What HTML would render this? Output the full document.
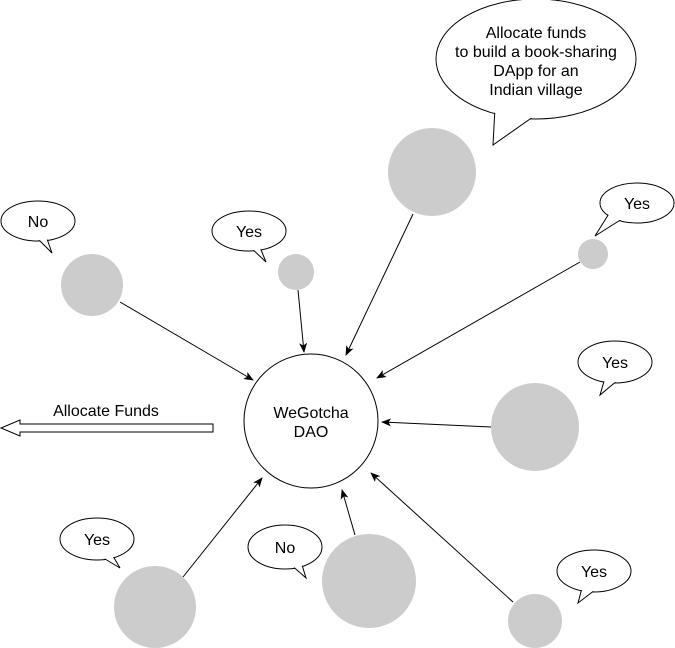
<!DOCTYPE html>
<html><head><meta charset="utf-8"><style>
html,body{margin:0;padding:0;background:#fff;}
svg{display:block;}
text{font-family:"Liberation Sans",Arial,sans-serif;font-size:16px;fill:#000;}
</style></head><body>
<svg width="675" height="648" viewBox="0 0 675 648" xmlns="http://www.w3.org/2000/svg">
<defs>
<marker id="ah" markerWidth="10" markerHeight="8" refX="9" refY="4" orient="auto" markerUnits="userSpaceOnUse">
<path d="M0,0 L10,4 L0,8 L2.5,4 Z" fill="#000"/>
</marker>
</defs>
<g fill="#cccccc">
<circle cx="92" cy="285" r="31"/>
<circle cx="296" cy="272" r="18"/>
<circle cx="432" cy="172" r="44"/>
<circle cx="593" cy="254" r="15"/>
<circle cx="535" cy="427" r="44"/>
<circle cx="369" cy="581" r="47"/>
<circle cx="155" cy="607" r="41"/>
<circle cx="535" cy="621" r="27"/>
</g>
<circle cx="311" cy="421" r="67" fill="#fff" stroke="#000" stroke-width="1"/>
<text x="311" y="418" text-anchor="middle">WeGotcha</text>
<text x="311" y="437" text-anchor="middle">DAO</text>
<g stroke="#000" stroke-width="1" fill="none" marker-end="url(#ah)">
<line x1="120" y1="302" x2="253" y2="380"/>
<line x1="298" y1="290" x2="304" y2="352"/>
<line x1="413" y1="214" x2="346" y2="355"/>
<line x1="580" y1="262" x2="377" y2="378"/>
<line x1="491" y1="427" x2="382" y2="422"/>
<line x1="355" y1="535" x2="342" y2="490"/>
<line x1="183" y1="577" x2="262" y2="478"/>
<line x1="513" y1="602" x2="371" y2="473"/>
</g>
<path d="M213,424 L20,424 L20,420 L1,428 L20,436 L20,432 L213,432 Z" fill="#fff" stroke="#000" stroke-width="1"/>
<text x="106" y="416" text-anchor="middle">Allocate Funds</text>

<g stroke="#000" stroke-width="1">
<ellipse cx="38" cy="221" rx="37" ry="20" fill="#fff"/>
<polyline points="34,235 52,253 46,236" fill="#fff"/>
<ellipse cx="38" cy="221" rx="36.3" ry="19.3" fill="#fff" stroke="none"/>

<ellipse cx="249" cy="231" rx="37" ry="20" fill="#fff"/>
<polyline points="248,245 266,262 259,245" fill="#fff"/>
<ellipse cx="249" cy="231" rx="36.3" ry="19.3" fill="#fff" stroke="none"/>

<ellipse cx="536" cy="59" rx="100" ry="60" fill="#fff"/>
<polyline points="495,108 493,145 540,112" fill="#fff"/>
<ellipse cx="536" cy="59" rx="99.3" ry="59.3" fill="#fff" stroke="none"/>

<ellipse cx="637" cy="203" rx="37" ry="20" fill="#fff"/>
<polyline points="610,212 595,236 622,219" fill="#fff"/>
<ellipse cx="637" cy="203" rx="36.3" ry="19.3" fill="#fff" stroke="none"/>

<ellipse cx="615" cy="362" rx="37" ry="21" fill="#fff"/>
<polyline points="605,378 600,395 618,380" fill="#fff"/>
<ellipse cx="615" cy="362" rx="36.3" ry="20.3" fill="#fff" stroke="none"/>

<ellipse cx="97" cy="539" rx="37" ry="21" fill="#fff"/>
<polyline points="100,556 120,568 113,556" fill="#fff"/>
<ellipse cx="97" cy="539" rx="36.3" ry="20.3" fill="#fff" stroke="none"/>

<ellipse cx="285" cy="547" rx="37" ry="22" fill="#fff"/>
<polyline points="289,563 306,578 302,565" fill="#fff"/>
<ellipse cx="285" cy="547" rx="36.3" ry="21.3" fill="#fff" stroke="none"/>

<ellipse cx="594" cy="571" rx="37" ry="21" fill="#fff"/>
<polyline points="582,588 578,603 595,590" fill="#fff"/>
<ellipse cx="594" cy="571" rx="36.3" ry="20.3" fill="#fff" stroke="none"/>
</g>
<text x="38" y="227" text-anchor="middle">No</text>
<text x="249" y="237" text-anchor="middle">Yes</text>
<text x="637" y="209" text-anchor="middle">Yes</text>
<text x="615" y="368" text-anchor="middle">Yes</text>
<text x="97" y="545" text-anchor="middle">Yes</text>
<text x="285" y="553" text-anchor="middle">No</text>
<text x="594" y="577" text-anchor="middle">Yes</text>
<text x="536" y="38" text-anchor="middle">Allocate funds</text>
<text x="536" y="57" text-anchor="middle">to build a book-sharing</text>
<text x="536" y="76" text-anchor="middle">DApp for an</text>
<text x="536" y="95" text-anchor="middle">Indian village</text>
</svg>
</body></html>
